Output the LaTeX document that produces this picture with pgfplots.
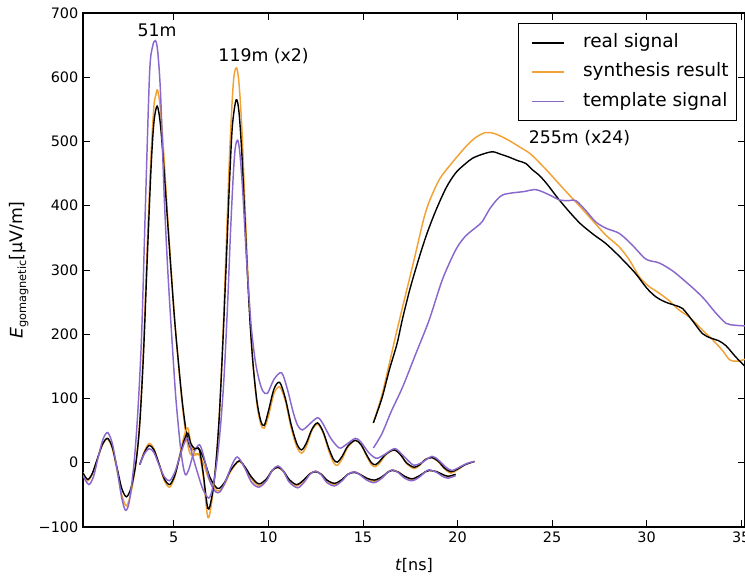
\documentclass[border=0pt]{standalone}
\usepackage{fontspec}
\setmainfont{DejaVu Sans}
\usepackage{pgfplots}
\pgfplotsset{compat=1.18}
\definecolor{synth}{RGB}{242,161,52}
\definecolor{tmpl}{RGB}{137,104,205}

\begin{document}
\begin{tikzpicture}
\begin{axis}[
  width=496.5pt, height=385.5pt, scale only axis,
  xmin=0.2, xmax=35.2, ymin=-100, ymax=700,
  xtick={5,10,...,35}, ytick={-100,0,...,700},
  yticklabels={−100,0,100,200,300,400,500,600,700},
  /pgf/number format/assume math mode=true,
  tick label style={font=\fontsize{10.8}{13}\selectfont},
  tick align=inside,
  major tick length=5pt,
  every tick/.style={black, line width=0.6pt},
  axis line style={line width=0.9pt},
  xlabel={\textit{t}[ns]},
  xlabel style={at={(axis description cs:0.5,-0.0739)}, anchor=center, font=\fontsize{12}{14}\selectfont},
  ylabel={\textit{E}\raisebox{-2.5pt}{\fontsize{8.5}{10}\selectfont gomagnetic}[µV/m]},
  ylabel style={at={(axis description cs:-0.0967,0.5)}, anchor=center, font=\fontsize{13}{15}\selectfont},
  legend style={at={(axis description cs:0.988,0.9805)}, anchor=north east,
    draw=black, line width=0.7pt, font=\fontsize{13.9}{16}\selectfont,
    inner xsep=4pt, inner ysep=6pt, row sep=5pt, column sep=12pt,
    nodes={inner sep=2pt, text height=10pt, text depth=3pt}},
  legend cell align=left,
  legend image code/.code={\path (0pt,0pt); \draw[#1] (5pt,0pt) -- (29pt,0pt);},
  real/.style={black, line width=1.05pt},
  syn/.style={synth, line width=1.1pt},
  tpl/.style={tmpl, line width=1.1pt},
  every axis plot/.append style={smooth, tension=0.5},
]
\addlegendimage{real}
\addlegendentry{real signal}
\addlegendimage{syn}
\addlegendentry{synthesis result}
\addlegendimage{tpl}
\addlegendentry{template signal}

% 51m
\addplot[syn, forget plot] coordinates {
(0.2,-15) (0.45,-28) (0.7,-17) (1.0,9) (1.25,29) (1.5,37) (1.75,22) (2.0,-12)
(2.25,-50) (2.5,-67) (2.75,-45) (3.0,0) (3.2,65) (3.4,180) (3.6,340) (3.8,480)
(3.95,555) (4.05,572) (4.14,580) (4.28,555) (4.45,490) (4.65,395) (4.85,305)
(5.05,222) (5.25,152) (5.45,90) (5.65,42) (5.85,15) (6.05,11) (6.3,13) (6.55,0)
(6.85,-25) (7.15,-40) (7.4,-44) (7.7,-33) (8.0,-14) (8.45,2) (8.8,-10) (9.1,-25)
(9.5,-36) (9.9,-27) (10.2,-13) (10.5,-7) (10.8,-14) (11.1,-28) (11.5,-36)
(11.9,-27) (12.2,-17) (12.5,-13) (12.8,-18) (13.1,-29) (13.5,-34) (13.9,-27)
(14.2,-18) (14.55,-14) (14.9,-19) (15.2,-25) (15.6,-29) (16.0,-23) (16.3,-15)
(16.56,-11) (16.9,-15) (17.2,-22) (17.6,-27) (18.0,-21) (18.3,-14) (18.5,-12)
(18.9,-14) (19.2,-19) (19.5,-22) (19.9,-19)};
\addplot[real, forget plot] coordinates {
(0.2,-16) (0.45,-26) (0.7,-16) (1.0,10) (1.25,30) (1.5,38) (1.75,24) (2.0,-8)
(2.25,-40) (2.5,-53) (2.75,-38) (3.0,0) (3.2,60) (3.4,170) (3.6,320) (3.8,460)
(3.95,530) (4.12,555) (4.28,530) (4.45,470) (4.65,385) (4.85,300) (5.05,220)
(5.25,155) (5.45,95) (5.65,50) (5.85,25) (6.05,20) (6.3,23) (6.6,5) (6.9,-22)
(7.2,-37) (7.4,-40) (7.7,-30) (8.0,-12) (8.45,3) (8.8,-8) (9.1,-22) (9.5,-33)
(9.9,-25) (10.2,-12) (10.5,-7) (10.8,-13) (11.1,-26) (11.5,-34) (11.9,-26)
(12.2,-17) (12.5,-14) (12.8,-18) (13.1,-27) (13.5,-32) (13.9,-26) (14.2,-18)
(14.55,-15) (14.9,-19) (15.2,-24) (15.6,-27) (16.0,-22) (16.3,-15) (16.56,-12)
(16.9,-15) (17.2,-21) (17.6,-25) (18.0,-20) (18.3,-14) (18.5,-12) (18.9,-14)
(19.2,-18) (19.5,-21) (19.9,-18)};
\addplot[tpl, forget plot] coordinates {
(0.2,-20) (0.5,-34) (0.75,-22) (1.0,8) (1.25,36) (1.5,47) (1.75,30) (2.0,-10)
(2.25,-55) (2.45,-74) (2.65,-60) (2.9,0) (3.1,80) (3.3,200) (3.5,400) (3.72,606)
(3.88,648) (4.03,657) (4.15,640) (4.3,575) (4.5,410) (4.7,290) (4.95,170)
(5.13,93) (5.39,15) (5.6,-18) (5.8,-10) (6.05,15) (6.36,28) (6.6,8) (6.9,-28)
(7.2,-45) (7.45,-45) (7.75,-28) (8.05,-5) (8.35,9) (8.7,-5) (9.1,-30) (9.5,-38)
(9.9,-28) (10.2,-12) (10.5,-5) (10.8,-13) (11.1,-30) (11.55,-39) (11.9,-30)
(12.2,-18) (12.5,-13) (12.8,-19) (13.1,-31) (13.5,-36) (13.9,-28) (14.2,-18)
(14.55,-14) (14.9,-20) (15.2,-27) (15.6,-31) (16.0,-24) (16.3,-15) (16.56,-11)
(16.9,-16) (17.2,-24) (17.6,-28) (18.0,-22) (18.3,-14) (18.5,-11) (18.9,-15)
(19.2,-21) (19.5,-24) (19.9,-20)};

% 119m (x2)
\addplot[syn, forget plot] coordinates {
(3.2,-3) (3.45,18) (3.7,30) (3.95,22) (4.2,0) (4.5,-28) (4.78,-38) (5.05,-22)
(5.3,10) (5.55,42) (5.74,54) (5.9,30) (6.1,14) (6.35,12) (6.55,-20) (6.8,-85)
(7.0,-62) (7.2,-10) (7.4,70) (7.6,200) (7.8,360) (7.95,480) (8.1,570) (8.2,606)
(8.33,614) (8.45,590) (8.6,520) (8.75,410) (8.9,305) (9.05,215) (9.2,150)
(9.4,90) (9.6,60) (9.78,54) (10.0,72) (10.3,108) (10.6,118) (10.9,96) (11.2,55)
(11.5,25) (11.75,15) (12.0,25) (12.3,50) (12.6,60) (12.9,46) (13.2,18) (13.45,0)
(13.65,-4) (13.9,6) (14.2,24) (14.6,35) (14.9,28) (15.2,10) (15.45,-3)
(15.66,-6) (15.9,0) (16.2,12) (16.65,20) (17.0,12) (17.3,-1) (17.7,-9) (18.0,-4)
(18.3,5) (18.65,8) (19.0,1) (19.3,-9) (19.65,-16) (20.0,-11) (20.4,-3) (20.9,2)};
\addplot[real, forget plot] coordinates {
(3.2,-3) (3.45,16) (3.7,27) (3.95,20) (4.2,0) (4.5,-25) (4.78,-34) (5.05,-20)
(5.3,8) (5.55,35) (5.74,46) (5.9,30) (6.1,22) (6.35,20) (6.55,-15) (6.8,-71)
(7.0,-55) (7.2,-10) (7.4,70) (7.6,190) (7.8,330) (7.95,440) (8.1,525) (8.3,565)
(8.45,545) (8.6,480) (8.75,385) (8.9,290) (9.05,210) (9.2,150) (9.4,95)
(9.6,65) (9.78,58) (10.0,80) (10.3,115) (10.6,125) (10.9,100) (11.2,60)
(11.5,30) (11.75,20) (12.0,30) (12.3,52) (12.6,62) (12.9,48) (13.2,22)
(13.45,5) (13.65,1) (13.9,10) (14.2,26) (14.6,35) (14.9,28) (15.2,12) (15.45,0)
(15.66,-3) (15.9,3) (16.2,13) (16.65,20) (17.0,12) (17.3,0) (17.7,-7) (18.0,-3)
(18.3,5) (18.65,8) (19.0,2) (19.3,-8) (19.65,-14) (20.0,-10) (20.4,-3) (20.9,2)};
\addplot[tpl, forget plot] coordinates {
(3.2,-3) (3.45,14) (3.7,22) (3.95,16) (4.2,-2) (4.5,-22) (4.78,-28) (5.05,-15)
(5.3,8) (5.55,30) (5.74,38) (6.0,10) (6.3,-20) (6.55,-42) (6.85,-55) (7.05,-40)
(7.25,-5) (7.45,50) (7.65,130) (7.85,250) (8.0,360) (8.15,450) (8.25,490)
(8.38,502) (8.5,480) (8.65,420) (8.8,340) (8.95,270) (9.1,210) (9.3,160)
(9.5,130) (9.7,112) (9.95,108) (10.3,130) (10.7,140) (11.0,115) (11.3,80)
(11.55,58) (11.8,51) (12.1,58) (12.6,70) (12.9,60) (13.3,38) (13.75,23)
(14.1,28) (14.6,38) (14.9,32) (15.3,16) (15.7,7) (16.1,12) (16.66,22) (17.0,15)
(17.4,3) (17.7,-4) (18.1,0) (18.65,10) (19.0,4) (19.35,-6) (19.7,-12)
(20.1,-7) (20.5,-1) (20.9,2)};

% 255m (x24)
\addplot[syn, forget plot] coordinates {
(15.55,62) (16.0,105) (16.4,155) (16.75,200) (17.1,243) (17.45,285) (17.8,328)
(18.2,378) (18.45,402) (18.7,420) (18.95,436) (19.2,448) (19.74,468) (20.2,484)
(20.6,497) (21.0,507) (21.5,514) (22.0,512) (22.7,502) (23.2,493) (23.8,482)
(24.3,468) (24.85,451) (25.4,433) (25.9,417) (26.5,398) (27.2,375) (27.85,354)
(28.55,336) (29.1,315) (29.6,290) (30.1,275) (30.66,264) (31.2,252) (31.7,238)
(32.2,228) (32.6,217) (33.0,205) (33.5,191) (34.0,175) (34.4,160) (34.8,158)
(35.2,161)};
\addplot[real, forget plot] coordinates {
(15.55,62) (16.0,100) (16.4,145) (16.8,185) (17.1,225) (17.5,272) (18.0,322)
(18.4,358) (18.86,393) (19.4,428) (19.9,451) (20.4,465) (20.8,474) (21.3,480)
(21.85,484) (22.3,480) (22.7,476) (23.2,470) (23.6,466) (24.0,455) (24.3,448)
(24.7,435) (25.3,412) (25.9,391) (26.5,372) (27.2,355) (27.85,341) (28.6,320)
(29.4,295) (30.0,272) (30.5,258) (31.0,250) (31.5,245) (31.9,240) (32.4,222)
(32.95,201) (33.4,194) (33.8,190) (34.2,182) (34.7,165) (35.2,150)};
\addplot[tpl, forget plot] coordinates {
(15.55,23) (16.0,45) (16.5,80) (17.1,118) (17.8,170) (18.5,222) (19.2,285)
(19.9,331) (20.4,352) (21.0,367) (21.3,375) (21.7,395) (22.1,410) (22.4,417)
(22.9,420) (23.5,422) (24.15,425) (24.85,417) (25.4,409) (25.9,408) (26.26,408)
(26.8,392) (27.3,375) (27.85,365) (28.55,357) (29.2,340) (29.96,317)
(30.66,311) (31.4,298) (32.25,277) (32.7,265) (33.1,253) (33.6,235) (34.2,217)
(34.7,214) (35.2,213)};

\node[font=\fontsize{13}{15}\selectfont] at (axis cs:4.12,673) {51m};
\node[font=\fontsize{13}{15}\selectfont] at (axis cs:9.75,633) {119m (x2)};
\node[font=\fontsize{13}{15}\selectfont] at (axis cs:26.45,506) {255m (x24)};

\coordinate (bbsw) at (rel axis cs:-0.12538,-0.10506);
\coordinate (bbne) at (rel axis cs:1,1.02529);
\end{axis}
\pgfresetboundingbox
\useasboundingbox (bbsw) rectangle (bbne);
\end{tikzpicture}
\end{document}
